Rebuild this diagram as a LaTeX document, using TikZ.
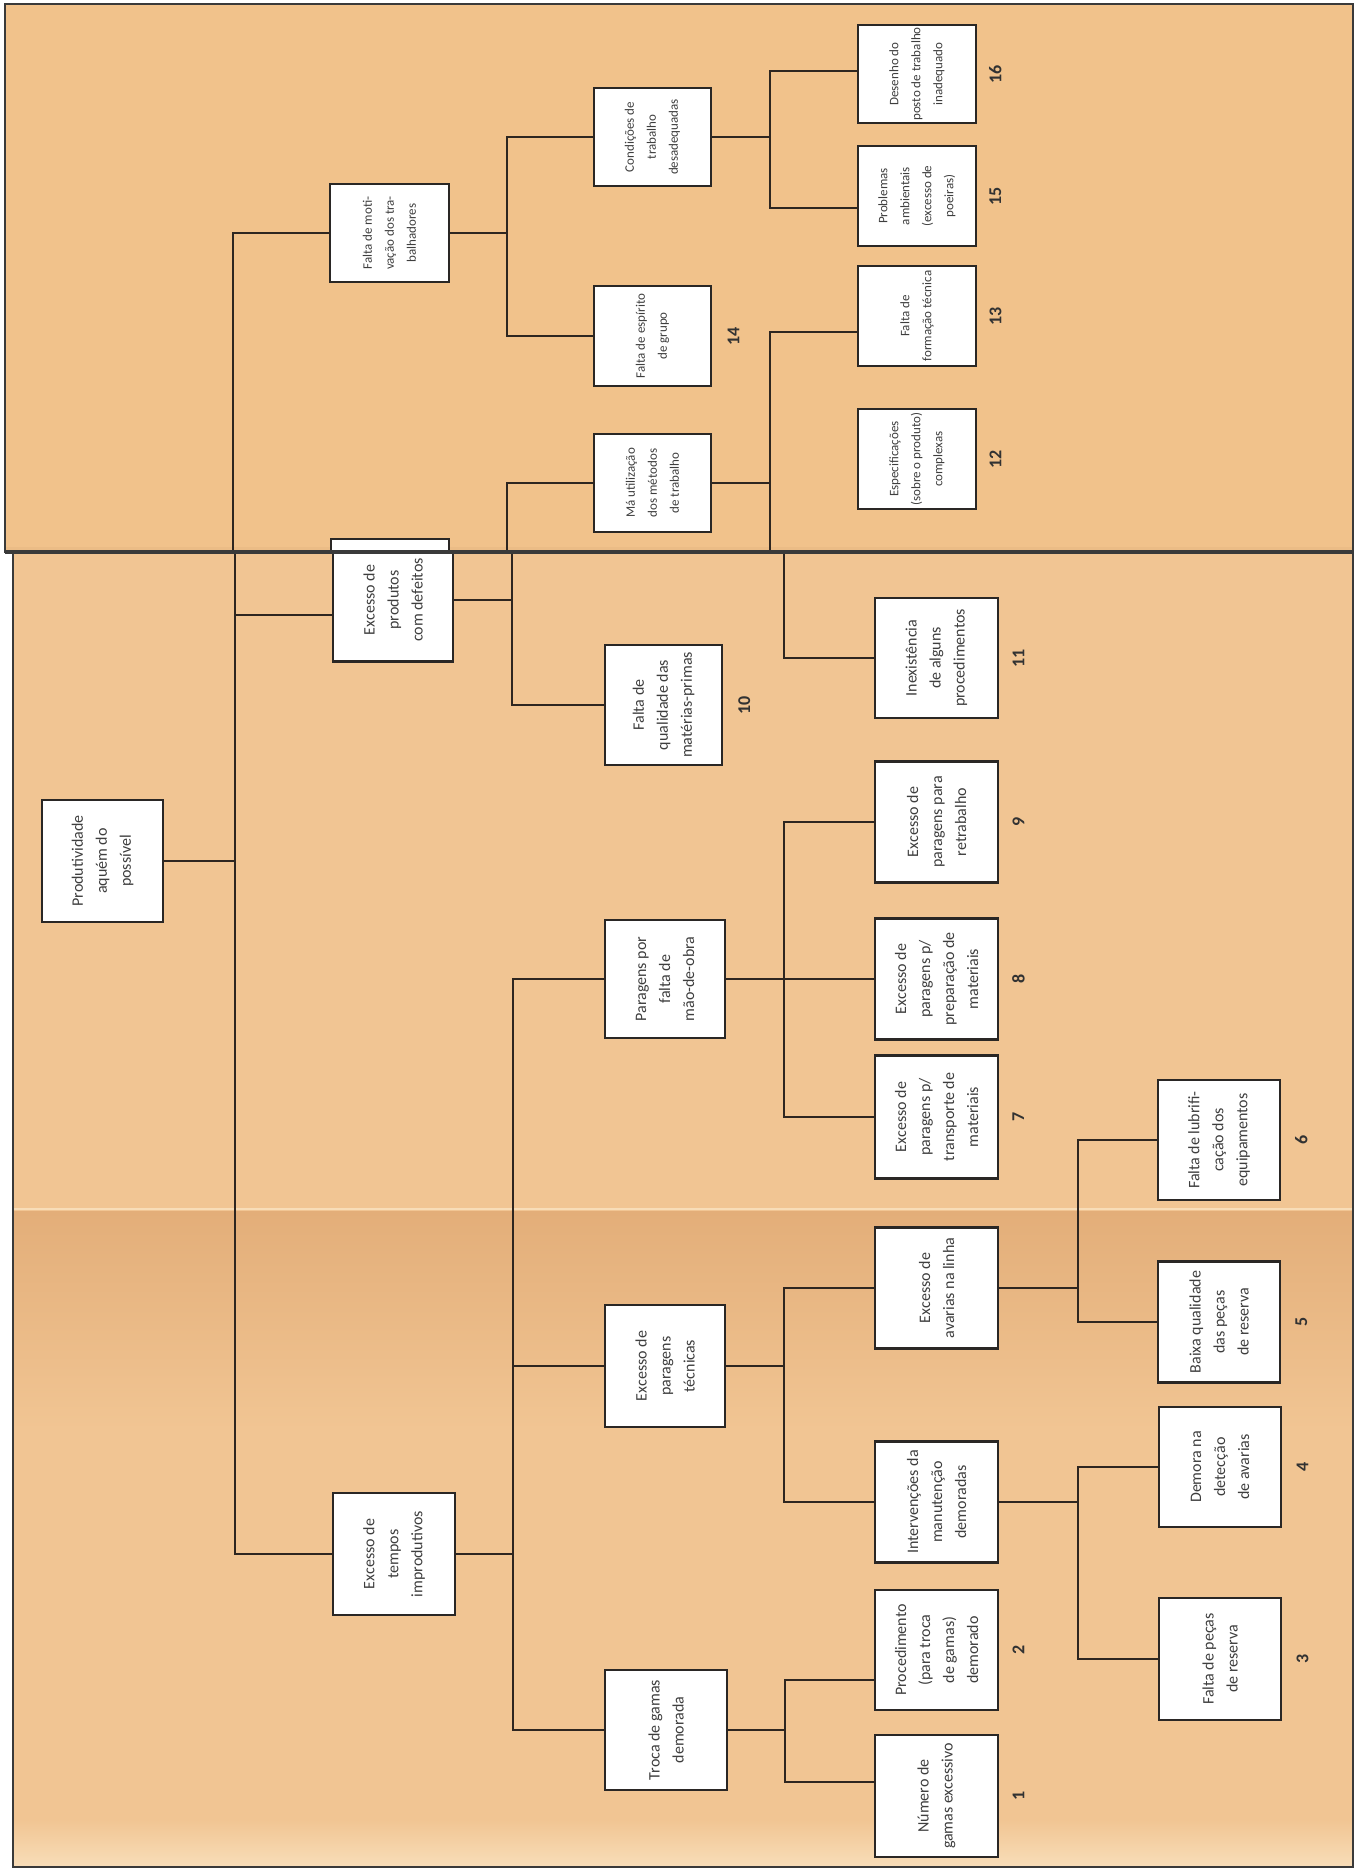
\documentclass[tikz,border=0pt]{standalone}
\usepackage{fontspec}
\setmainfont{Carlito}
\usetikzlibrary{calc}
\definecolor{paperU}{HTML}{F1C28B}
\definecolor{paperL}{HTML}{F1C593}
\definecolor{creaseD}{HTML}{E3AE79}
\definecolor{paperLight}{HTML}{F8DDB8}
\definecolor{boxline}{HTML}{2A2725}
\definecolor{lineC}{HTML}{2E2620}
\definecolor{txt}{HTML}{3E3E3E}
\definecolor{edge}{HTML}{3A3A3A}
\begin{document}
\begin{tikzpicture}[x=1pt,y=-1pt,
  box/.style={draw=boxline, line width=2.8pt, fill=white, rotate=90, inner sep=0pt,
    align=center, text=txt, font=\fontsize{16}{24}\selectfont},
  bx/.style 2 args={box, minimum height=#1pt, minimum width=#2pt},
  ubx/.style 2 args={bx={#1}{#2}, font=\fontsize{13}{22}\selectfont},
  num/.style={rotate=90, inner sep=0pt, text=txt!80!black, font=\bfseries\fontsize{18}{18}\selectfont},
  conn/.style={draw=lineC, line width=2.8pt, line cap=rect},
]
\useasboundingbox (0,0) rectangle (1360,1869);
\fill[white] (0,0) rectangle (1360,1869);

% ---------------- lower sheet ----------------
\fill[paperL] (13,552) rectangle (1353,1867);
\shade[top color=creaseD, bottom color=paperL] (13,1211) rectangle (1353,1430);
\shade[top color=paperL, bottom color=paperLight] (13,1820) rectangle (1353,1866);
\draw[paperLight, line width=2pt] (13,1209) -- (1353,1209);

\node[bx={121}{122}] (root) at (102.5,861) {Produtividade\\aquém do\\possível};
\node[bx={120}{123}] (defeitos) at (393,600) {Excesso de\\produtos\\com defeitos};
\node[bx={122}{122}] (tempos) at (394,1554) {Excesso de\\tempos\\improdutivos};

\node[bx={117}{120}] (qual) at (663.5,705) {Falta de\\qualidade das\\matérias-primas};
\node[bx={120}{118}] (parag) at (665,979) {Paragens por\\falta de\\mão-de-obra};
\node[bx={120}{122}] (tecn) at (665,1366) {Excesso de\\paragens\\técnicas};
\node[bx={122}{120}] (troca) at (666,1730) {Troca de gamas\\demorada};

\node[bx={123}{120}] (inex) at (936.5,658) {Inexistência\\de alguns\\procedimentos};
\node[bx={123}{121}] (retrab) at (936.5,822) {Excesso de\\paragens para\\retrabalho};
\node[bx={123}{121}] (prep) at (936.5,979) {Excesso de\\paragens p/\\preparação de\\materiais};
\node[bx={123}{123}] (transp) at (936.5,1117) {Excesso de\\paragens p/\\transporte de\\materiais};
\node[bx={123}{121}] (avar) at (936.5,1288) {Excesso de\\avarias na linha};
\node[bx={123}{121}] (interv) at (936.5,1502) {Intervenções da\\manutenção\\demoradas};
\node[bx={123}{120}] (proced) at (936.5,1650) {Procedimento\\(para troca\\de gamas)\\demorado};
\node[bx={123}{122}] (numero) at (936.5,1796) {Número de\\gamas excessivo};

\node[bx={122}{120}] (lubr) at (1219,1140) {Falta de lubrifi-\\cação dos\\equipamentos};
\node[bx={122}{121}] (baixa) at (1219,1322) {Baixa qualidade\\das peças\\de reserva};
\node[bx={122}{120}] (demora) at (1220,1467) {Demora na\\detecção\\de avarias};
\node[bx={122}{122}] (pecas) at (1220,1659) {Falta de peças\\de reserva};

% lower connectors
\coordinate (TL0) at (235,552);
\coordinate (TL1) at (235,1554);
\coordinate (jDef) at (235,615);
\draw[conn] (TL0) -- (TL1) -- (tempos.north);
\draw[conn] (root.south) -- (root.south -| TL0);
\draw[conn] (jDef) -- (jDef -| defeitos.north);

\coordinate (V2a) at (512,552);
\draw[conn] (V2a) |- (qual.north);
\draw[conn] (defeitos.south) -- (defeitos.south -| V2a);

\coordinate (V2b) at (513,1554);
\draw[conn] (tempos.south) -- (V2b);
\draw[conn] (parag.north) -| (V2b) |- (troca.north);
\draw[conn] (tecn.north) -- (tecn.north -| V2b);

\coordinate (V3a) at (784,552);
\draw[conn] (V3a) |- (inex.north);

\coordinate (V3b) at (784,979);
\draw[conn] (parag.south) -- (V3b);
\draw[conn] (retrab.north) -| (V3b) |- (transp.north);
\draw[conn] (prep.north) -- (V3b);

\coordinate (V3c) at (784,1366);
\draw[conn] (tecn.south) -- (V3c);
\draw[conn] (avar.north) -| (V3c) |- (interv.north);

\coordinate (V3d) at (785,1730);
\draw[conn] (troca.south) -- (V3d);
\draw[conn] ($(proced.north)+(0,30)$) -| (V3d) |- ($(numero.north)+(0,-14)$);

\coordinate (V4a) at (1078,1288);
\draw[conn] (avar.south) -- (V4a);
\draw[conn] (lubr.north) -| (V4a) |- (baixa.north);

\coordinate (V4b) at (1078,1502);
\draw[conn] (interv.south) -- (V4b);
\draw[conn] (demora.north) -| (V4b) |- (pecas.north);

% numbers, lower sheet
\node[num] (n10) at ([xshift=21pt]qual.south) {10};
\node[num] (n11) at ([xshift=19pt]inex.south) {11};
\node[num] (n9) at ([xshift=19pt]retrab.south) {9};
\node[num] (n8) at ([xshift=19pt]prep.south) {8};
\node[num] (n7) at ([xshift=19pt]transp.south) {7};
\node[num] (n2) at ([xshift=19pt]proced.south) {2};
\node[num] (n1) at ([xshift=19pt]numero.south) {1};
\node[num] (n6) at ([xshift=20pt]lubr.south) {6};
\node[num] (n5) at ([xshift=20pt]baixa.south) {5};
\node[num] (n4) at ([xshift=20pt]demora.south) {4};
\node[num] (n3) at ([xshift=20pt]pecas.south) {3};

% lower sheet border
\draw[edge, line width=2.4pt] (13,552) -- (13,1867) -- (1353,1867) -- (1353,552);

% ---------------- upper sheet ----------------
\fill[paperU] (5,4) rectangle (1353,552);
\draw[paperL!80!brown, line width=3pt, opacity=.5] (5,548) -- (1353,548);

\node[ubx={119}{98}] (motiv) at (389.5,233) {Falta de moti-\\vação dos tra-\\balhadores};
\node[ubx={117}{98}] (cond) at (652.5,137) {Condições de\\trabalho\\desadequadas};
\node[ubx={117}{100}] (esp) at (652.5,336) {Falta de espírito\\de grupo};
\node[ubx={117}{98}] (mau) at (652.5,483) {Má utilização\\dos métodos\\de trabalho};
\node[ubx={118}{98}] (desenho) at (917,74) {Desenho do\\posto de trabalho\\inadequado};
\node[ubx={118}{100}] (probl) at (917,196) {Problemas\\ambientais\\(excesso de\\poeiras)};
\node[ubx={118}{100}] (form) at (917,316) {Falta de\\formação técnica};
\node[ubx={118}{100}] (espec) at (917,459) {Especificações\\(sobre o produto)\\complexas};

% top strip of the "Excesso de produtos" box visible on the upper sheet
\filldraw[fill=white, draw=boxline, line width=2.6pt] (331,553) -- (331,539) -- (449,539) -- (449,553);

\coordinate (TU0) at (233,552);
\draw[conn] (motiv.north) -| (TU0);

\coordinate (V2u) at (507,233);
\draw[conn] (motiv.south) -- (V2u);
\draw[conn] (cond.north) -| (V2u) |- (esp.north);

\coordinate (V2v) at (507,552);
\draw[conn] (mau.north) -| (V2v);

\coordinate (V3u) at (770,137);
\draw[conn] (cond.south) -- (V3u);
\draw[conn] ($(desenho.north)+(0,-3)$) -| (V3u) |- ($(probl.north)+(0,12)$);

\coordinate (V3v) at (770,552);
\draw[conn] ($(form.north)+(0,16)$) -| (V3v);
\draw[conn] ($(espec.north)+(0,-5)$) -- ($(espec.north)+(0,-5)$ -| V3v);
\draw[conn] (mau.south) -- (mau.south -| V3v);

\node[num] (n16) at ([xshift=18pt]desenho.south) {16};
\node[num] (n15) at ([xshift=18pt]probl.south) {15};
\node[num] (n14) at ([xshift=21pt]esp.south) {14};
\node[num] (n13) at ([xshift=18pt]form.south) {13};
\node[num] (n12) at ([xshift=18pt]espec.south) {12};

% upper sheet border
\draw[edge, line width=2.4pt] (5,4) rectangle (1353,552);
\draw[edge, line width=3.2pt] (5,552) -- (1353,552);
\end{tikzpicture}
\end{document}
